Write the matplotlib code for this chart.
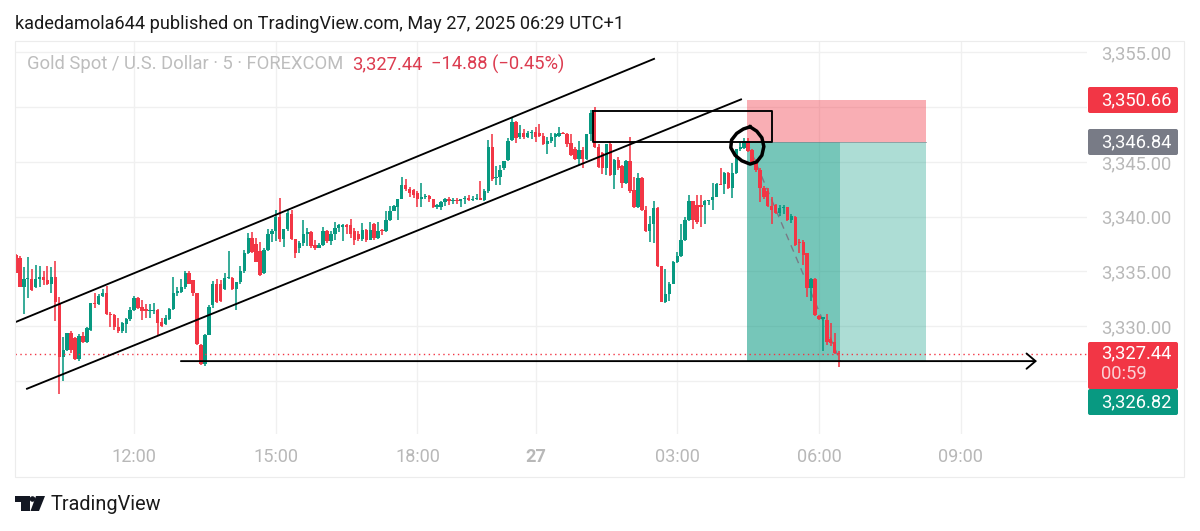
import matplotlib
matplotlib.use("Agg")
import matplotlib.pyplot as plt
from matplotlib.patches import Rectangle, Polygon, Circle, FancyBboxPatch

plt.rcParams["font.family"] = ["Roboto", "DejaVu Sans"]

# ─────────────────────────────────────────────
# DATA  (5 min candles)
# ─────────────────────────────────────────────
opens = [
    3336.5, 3336.2, 3333.6, 3334.3, 3334.3, 3333.6, 3334.3, 3334.5, 3334.2, 3333.9,
    3334.5, 3332.0, 3327.2, 3327.8, 3329.4, 3328.9, 3327.0, 3329.1, 3328.6, 3329.7,
    3332.1, 3332.0, 3332.8, 3333.0, 3331.1, 3331.0, 3329.9, 3329.6, 3330.2, 3330.7,
    3331.5, 3332.6, 3331.8, 3331.6, 3331.4, 3331.4, 3331.5, 3330.4, 3330.2, 3330.7,
    3331.6, 3333.0, 3333.1, 3333.6, 3334.9, 3334.2, 3333.0, 3328.3, 3326.6, 3329.2,
    3331.9, 3333.9, 3333.9, 3333.4, 3334.4, 3334.4, 3333.4, 3334.0, 3335.0, 3336.7,
    3338.1, 3337.5, 3336.9, 3334.9, 3337.0, 3338.4, 3338.7, 3340.0, 3338.0, 3338.9,
    3340.2, 3338.0, 3337.1, 3337.6, 3338.4, 3338.6, 3337.4, 3337.1, 3337.4, 3338.7,
    3337.8, 3338.4, 3339.0, 3339.1, 3339.2, 3339.2, 3338.7, 3338.4, 3338.0, 3338.8,
    3337.9, 3339.3, 3338.1, 3338.8, 3338.7, 3339.7, 3340.5, 3340.9, 3341.6, 3342.9,
    3342.5, 3342.4, 3342.2, 3341.6, 3341.8, 3341.9, 3341.6, 3340.9, 3340.9, 3341.3,
    3341.6, 3341.4, 3341.5, 3341.4, 3341.6, 3341.7, 3341.5, 3341.6, 3341.7, 3341.5,
    3342.3, 3346.4, 3343.5, 3343.6, 3344.4, 3345.2, 3347.0, 3348.6, 3347.3, 3347.6,
    3347.3, 3347.6, 3347.7, 3347.6, 3347.4, 3346.6, 3346.9, 3347.3, 3347.4, 3347.6,
    3347.5, 3346.7, 3346.2, 3345.3, 3346.1, 3345.3, 3347.5, 3349.6, 3346.4, 3345.8,
    3344.4, 3346.6, 3343.8, 3345.2, 3344.6, 3343.1, 3345.1, 3342.4, 3340.9, 3343.5,
    3340.6, 3338.7, 3339.3, 3340.8, 3335.5, 3332.2, 3332.9, 3333.9, 3335.9, 3336.4,
    3337.9, 3339.7, 3341.4, 3341.1, 3341.1, 3341.1, 3341.4, 3341.5, 3341.8, 3343.0,
    3343.0, 3344.0, 3342.6, 3344.0, 3346.2, 3346.3, 3346.9, 3346.1, 3345.0, 3344.3,
    3342.6, 3342.3, 3341.0, 3341.1, 3340.3, 3340.8, 3340.9, 3339.7, 3340.0, 3337.7,
    3337.7, 3336.7, 3333.5, 3334.3, 3330.9, 3330.7, 3330.6, 3328.8, 3328.6, 3327.6,
]
highs = [
    3336.6, 3336.4, 3335.4, 3336.3, 3335.2, 3335.6, 3335.5, 3335.0, 3335.5, 3335.4,
    3336.0, 3332.7, 3329.0, 3329.4, 3329.6, 3329.0, 3329.3, 3329.5, 3329.9, 3332.1,
    3333.0, 3332.9, 3333.4, 3333.7, 3331.3, 3331.1, 3330.8, 3330.4, 3330.8, 3331.8,
    3332.8, 3332.7, 3332.4, 3332.0, 3332.0, 3332.1, 3331.6, 3330.8, 3331.0, 3331.7,
    3334.5, 3333.6, 3334.3, 3335.0, 3335.0, 3334.2, 3333.0, 3328.4, 3329.3, 3331.9,
    3334.1, 3334.3, 3334.2, 3334.9, 3336.9, 3334.5, 3334.0, 3335.5, 3337.0, 3338.5,
    3338.6, 3338.1, 3337.7, 3337.1, 3338.9, 3338.9, 3340.6, 3341.7, 3338.9, 3340.6,
    3340.6, 3338.0, 3337.8, 3339.7, 3339.0, 3338.7, 3337.9, 3337.6, 3339.1, 3338.8,
    3338.7, 3339.5, 3339.3, 3339.3, 3339.3, 3339.8, 3339.0, 3338.7, 3339.4, 3338.9,
    3339.5, 3339.4, 3339.5, 3338.9, 3340.5, 3341.0, 3341.1, 3341.6, 3343.6, 3343.4,
    3342.7, 3342.5, 3342.3, 3343.1, 3342.1, 3342.0, 3341.6, 3341.2, 3341.4, 3341.7,
    3341.8, 3341.7, 3341.7, 3341.6, 3341.9, 3342.0, 3341.9, 3342.1, 3343.3, 3342.5,
    3347.0, 3347.5, 3344.6, 3344.7, 3345.1, 3347.2, 3349.0, 3348.7, 3348.4, 3348.0,
    3347.8, 3347.9, 3348.2, 3348.5, 3347.6, 3347.3, 3347.6, 3347.6, 3348.2, 3347.7,
    3347.6, 3347.5, 3346.4, 3346.9, 3346.4, 3347.5, 3349.7, 3350.0, 3346.6, 3345.9,
    3346.6, 3346.9, 3345.3, 3345.4, 3344.7, 3345.2, 3347.3, 3343.6, 3344.0, 3343.6,
    3341.0, 3340.1, 3341.4, 3340.9, 3335.5, 3335.2, 3334.0, 3336.0, 3336.8, 3339.3,
    3340.0, 3342.0, 3341.4, 3342.0, 3342.0, 3341.5, 3341.5, 3343.1, 3343.1, 3344.4,
    3344.1, 3344.1, 3344.9, 3346.2, 3346.8, 3347.2, 3347.2, 3346.2, 3345.3, 3344.4,
    3342.8, 3342.6, 3341.8, 3341.2, 3341.1, 3341.1, 3340.9, 3340.2, 3340.1, 3338.0,
    3337.9, 3336.7, 3334.4, 3334.4, 3331.0, 3330.8, 3331.1, 3330.3, 3329.4, 3327.7,
]
lows = [
    3334.9, 3333.6, 3331.1, 3332.6, 3333.2, 3333.5, 3333.6, 3333.8, 3333.8, 3333.0,
    3330.5, 3323.8, 3325.0, 3327.7, 3327.6, 3326.9, 3326.8, 3328.5, 3328.5, 3329.6,
    3331.7, 3331.9, 3332.7, 3331.0, 3329.9, 3329.7, 3329.4, 3329.4, 3329.4, 3330.5,
    3331.4, 3331.6, 3330.6, 3330.8, 3330.8, 3331.1, 3329.2, 3329.9, 3330.1, 3330.6,
    3331.5, 3332.8, 3333.0, 3333.4, 3333.9, 3332.8, 3328.3, 3326.5, 3326.4, 3329.2,
    3331.7, 3332.1, 3332.2, 3333.3, 3334.3, 3333.3, 3331.5, 3333.9, 3334.9, 3336.6,
    3336.7, 3335.9, 3334.6, 3334.8, 3336.9, 3337.7, 3337.8, 3337.7, 3337.2, 3338.7,
    3337.9, 3336.2, 3336.7, 3337.3, 3337.3, 3337.1, 3337.0, 3337.1, 3337.3, 3337.6,
    3337.4, 3337.9, 3338.6, 3337.8, 3338.4, 3338.1, 3337.4, 3337.8, 3337.8, 3337.7,
    3337.9, 3337.9, 3338.0, 3338.3, 3338.6, 3339.6, 3340.5, 3339.7, 3341.6, 3342.3,
    3341.8, 3341.7, 3340.9, 3340.9, 3341.6, 3341.3, 3340.8, 3340.7, 3340.6, 3341.0,
    3341.1, 3341.2, 3341.2, 3340.9, 3341.2, 3341.4, 3341.4, 3341.5, 3341.5, 3341.4,
    3342.2, 3343.3, 3342.9, 3342.9, 3344.3, 3345.1, 3346.9, 3346.7, 3347.1, 3347.1,
    3347.2, 3347.1, 3346.8, 3347.3, 3346.5, 3345.7, 3346.7, 3346.4, 3347.3, 3347.5,
    3346.4, 3345.5, 3345.2, 3344.7, 3344.4, 3345.2, 3346.9, 3346.3, 3344.4, 3343.9,
    3343.8, 3343.7, 3342.5, 3344.3, 3342.6, 3343.0, 3342.2, 3340.8, 3340.8, 3340.5,
    3338.6, 3337.7, 3337.6, 3335.4, 3332.2, 3332.1, 3332.3, 3333.9, 3335.8, 3336.3,
    3337.8, 3339.6, 3338.9, 3339.3, 3339.1, 3339.3, 3341.1, 3340.6, 3341.8, 3342.9,
    3342.1, 3342.5, 3341.7, 3343.9, 3346.0, 3346.2, 3345.9, 3344.9, 3344.1, 3341.3,
    3341.6, 3340.9, 3339.3, 3340.2, 3340.1, 3340.2, 3339.6, 3339.4, 3337.3, 3336.7,
    3335.6, 3332.7, 3332.3, 3330.9, 3330.6, 3327.7, 3328.3, 3328.2, 3327.5, 3326.3,
]
closes = [
    3334.9, 3333.6, 3334.3, 3334.3, 3333.3, 3334.3, 3334.5, 3334.2, 3333.9, 3334.5,
    3332.2, 3327.2, 3327.8, 3329.4, 3327.8, 3327.0, 3329.1, 3328.6, 3329.8, 3332.1,
    3332.0, 3332.8, 3333.0, 3331.1, 3331.0, 3329.9, 3329.6, 3330.3, 3330.7, 3331.5,
    3332.6, 3331.7, 3331.4, 3331.4, 3331.5, 3331.5, 3330.3, 3330.0, 3330.8, 3331.6,
    3333.0, 3333.2, 3333.6, 3334.9, 3333.9, 3333.0, 3328.4, 3326.6, 3329.2, 3331.8,
    3333.9, 3332.2, 3332.3, 3334.4, 3334.5, 3333.4, 3334.0, 3335.0, 3336.7, 3338.1,
    3336.8, 3335.9, 3334.7, 3337.0, 3338.4, 3338.7, 3340.0, 3338.0, 3338.9, 3340.3,
    3338.0, 3336.7, 3337.6, 3338.4, 3338.6, 3337.3, 3337.1, 3337.4, 3338.7, 3337.8,
    3338.4, 3339.0, 3339.2, 3339.2, 3339.1, 3338.4, 3337.9, 3338.0, 3338.8, 3337.9,
    3338.8, 3338.1, 3338.7, 3338.7, 3339.7, 3340.5, 3341.0, 3341.6, 3342.9, 3342.5,
    3342.2, 3342.0, 3341.6, 3341.8, 3341.9, 3341.6, 3340.9, 3340.9, 3341.3, 3341.6,
    3341.4, 3341.5, 3341.4, 3341.6, 3341.6, 3341.5, 3341.6, 3341.7, 3341.5, 3342.3,
    3346.4, 3343.4, 3343.6, 3344.3, 3345.1, 3346.9, 3348.6, 3347.2, 3347.6, 3347.3,
    3347.6, 3347.7, 3347.3, 3347.4, 3346.6, 3346.9, 3347.3, 3347.5, 3347.6, 3347.5,
    3346.6, 3345.6, 3345.3, 3346.1, 3345.3, 3347.5, 3349.5, 3346.4, 3344.5, 3344.4,
    3346.6, 3343.8, 3345.2, 3344.4, 3343.1, 3345.1, 3342.3, 3340.9, 3343.5, 3340.6,
    3338.7, 3339.3, 3340.8, 3335.5, 3332.2, 3332.9, 3333.9, 3335.9, 3336.4, 3337.9,
    3339.7, 3341.4, 3339.7, 3339.5, 3340.9, 3341.4, 3341.5, 3341.8, 3343.0, 3342.9,
    3344.0, 3342.6, 3344.0, 3346.2, 3346.3, 3346.9, 3346.0, 3345.0, 3344.3, 3342.6,
    3341.8, 3341.0, 3340.6, 3340.3, 3340.8, 3340.9, 3339.7, 3340.1, 3337.4, 3337.6,
    3336.5, 3333.5, 3334.3, 3331.0, 3330.7, 3330.7, 3328.6, 3328.5, 3327.6, 3327.44,
]

time_ticks = [30, 66, 102, 132, 168, 204, 240]
time_labels = ["12:00", "15:00", "18:00", "27", "03:00", "06:00", "09:00"]
price_ticks = [3355, 3350, 3345, 3340, 3335, 3330, 3325]
price_labels = ["3,355.00", "", "3,345.00", "3,340.00", "3,335.00", "3,330.00", ""]

last_price = 3327.44
entry = 3346.84
stop = 3350.66
target = 3326.82

# drawings on the chart, as (bar, price)
channel_top = ([0.0, 162.1], [3330.4, 3354.4])
channel_bottom = ([2.8, 184.2], [3324.3, 3350.7])
zone_bars = [185.7, 209.4, 231.2]
box_bars = [146.6, 192.1]
box_top = 3349.6
arrow_bars = [41.9, 259.4]
circle_bars = [186.5, 188.2, 189.5, 190.0, 189.5, 188.2, 186.5, 184.4, 182.7, 181.6, 181.8, 183.1, 184.8, 186.5]
circle_prices = [3348.2, 3347.8, 3347.2, 3346.4, 3345.6, 3345.0, 3344.8, 3345.1, 3345.6, 3346.3, 3347.0, 3347.6, 3348.0, 3348.2]

# ─────────────────────────────────────────────
# PALETTE
# ─────────────────────────────────────────────
GREEN = "#089981"
RED = "#f23645"
GRAY = "#787b86"
AXIS_TXT = "#b8b8b8"
GRID = "#f0f0f0"

W, H = 1200, 531
fig = plt.figure(figsize=(W / 100, H / 100), dpi=100, facecolor="white")

# main pane: x 15-1087 px, y 41-434 px
ax = fig.add_axes([15 / W, 1 - 434 / H, (1087 - 15) / W, (434 - 41) / H])
ax.set_xlim(-0.25, 272.1)
ax.set_ylim(3320.17, 3356.03)
for s in ax.spines.values():
    s.set_visible(False)
ax.set_axisbelow(True)
ax.grid(True, color=GRID, linewidth=1.0)

ax.set_xticks(time_ticks)
ax.set_xticklabels(time_labels, fontsize=13.1, color=AXIS_TXT)
ax.xaxis.get_ticklabels()[3].set_fontweight("bold")
ax.set_yticks(price_ticks)
ax.set_yticklabels(price_labels, fontsize=13.2, color=AXIS_TXT)
ax.yaxis.tick_right()
ax.tick_params(axis="both", length=0)
ax.tick_params(axis="x", pad=10)
ax.tick_params(axis="y", pad=10)

# ── long/short position zones ───────────────────────────────────────────────
ax.add_patch(Rectangle((zone_bars[0], entry), zone_bars[2] - zone_bars[0], stop - entry,
                       fc=RED, alpha=0.40, ec="none", zorder=1))
ax.add_patch(Rectangle((zone_bars[0], target), zone_bars[2] - zone_bars[0], entry - target,
                       fc=GREEN, alpha=0.33, ec="none", zorder=1))
ax.add_patch(Rectangle((zone_bars[0], target), zone_bars[1] - zone_bars[0], entry - target,
                       fc=GREEN, alpha=0.33, ec="none", zorder=1))
ax.plot([zone_bars[0], zone_bars[2]], [entry, entry], color=GRAY, lw=0.7, alpha=0.6, zorder=1.5)
ax.plot([zone_bars[0], zone_bars[1]], [entry, target], color=GRAY, lw=1.0, ls=(0, (5, 4)), zorder=1.5)

# ── candles ─────────────────────────────────────────────────────────────────
bars = list(range(len(closes)))
colors = [GREEN if c >= o else RED for o, c in zip(opens, closes)]
ax.vlines(bars, lows, highs, colors=colors, linewidth=1.15, zorder=2)
bottoms = [min(o, c) for o, c in zip(opens, closes)]
heights = [max(abs(c - o), 0.12) for o, c in zip(opens, closes)]
ax.bar(bars, heights, bottom=bottoms, width=0.86, color=colors, linewidth=0, zorder=2.1)

# ── last price line ─────────────────────────────────────────────────────────
ax.axhline(last_price, color=RED, lw=1.0, ls=(0, (1, 2.5)), zorder=2.5)

# ── hand drawings ───────────────────────────────────────────────────────────
ax.plot(*channel_top, color="black", lw=1.35, zorder=3)
ax.plot(*channel_bottom, color="black", lw=1.35, zorder=3)
ax.plot([box_bars[0], box_bars[1], box_bars[1], box_bars[0], box_bars[0]],
        [box_top, box_top, entry, entry, box_top], color="black", lw=1.35, zorder=3)
ax.plot(circle_bars, circle_prices, color="black", lw=2.5, solid_joinstyle="round", zorder=3)
ax.annotate("", xy=(arrow_bars[1], target), xytext=(arrow_bars[0], target),
            arrowprops=dict(arrowstyle="->,head_length=0.65,head_width=0.55", color="black",
                            lw=1.35, shrinkA=0, shrinkB=0), zorder=3)

# ─────────────────────────────────────────────
# OVERLAY in pixels: frame, header, badges, logo
# ─────────────────────────────────────────────
ov = fig.add_axes([0, 0, 1, 1], facecolor="none")
ov.set_xlim(0, W)
ov.set_ylim(H, 0)
ov.axis("off")

ov.add_patch(Rectangle((15, 41), 1169, 436, fc="none", ec="#ececec", lw=0.8))

ov.text(15, 24, "kadedamola644 published on TradingView.com, May 27, 2025 06:29 UTC+1",
        fontsize=13.1, color="#1a1a1a", va="center", ha="left")
ov.text(27, 64, "Gold Spot / U.S. Dollar · 5 · FOREXCOM",
        fontsize=13.2, color="#bdbdbd", va="center", ha="left")
ov.text(352, 64, "3,327.44", fontsize=13.2, color="#dc3c50", va="center", ha="left")
ov.text(431, 64, "−14.88 (−0.45%)", fontsize=13.2, color="#dc3c50", va="center", ha="left")


def badge(y0, y1, color):
    ov.add_patch(FancyBboxPatch((1089.5, y0 + 1.5), 87, y1 - y0 - 3,
                                boxstyle="round,pad=1.5,rounding_size=2", fc=color, ec="none"))


badge(87, 113, RED)
badge(129, 155, GRAY)
badge(342, 389, RED)
badge(389, 415, GREEN)
for y, label, col in [(100, "3,350.66", "white"), (142, "3,346.84", "white"),
                      (353, "3,327.44", "white"), (374, "00:59", "#fbd0d5"),
                      (402, "3,326.82", "white")]:
    ov.text(1101, y, label, fontsize=13.2, color=col, va="center", ha="left")

# TradingView logo
LOGO = "#131722"
ov.add_patch(Polygon([(15, 496), (29.5, 496), (29.5, 511), (21, 511), (21, 502), (15, 502)], fc=LOGO, ec="none"))
ov.add_patch(Circle((32.5, 499), 2.8, fc=LOGO, ec="none"))
ov.add_patch(Polygon([(36, 496), (45, 496), (39, 511), (30.5, 511)], fc=LOGO, ec="none"))
ov.text(51, 505, "TradingView", fontsize=14.3, color="#1a1a1a", va="center", ha="left")

fig.savefig("out.png", dpi=100, facecolor="white")
